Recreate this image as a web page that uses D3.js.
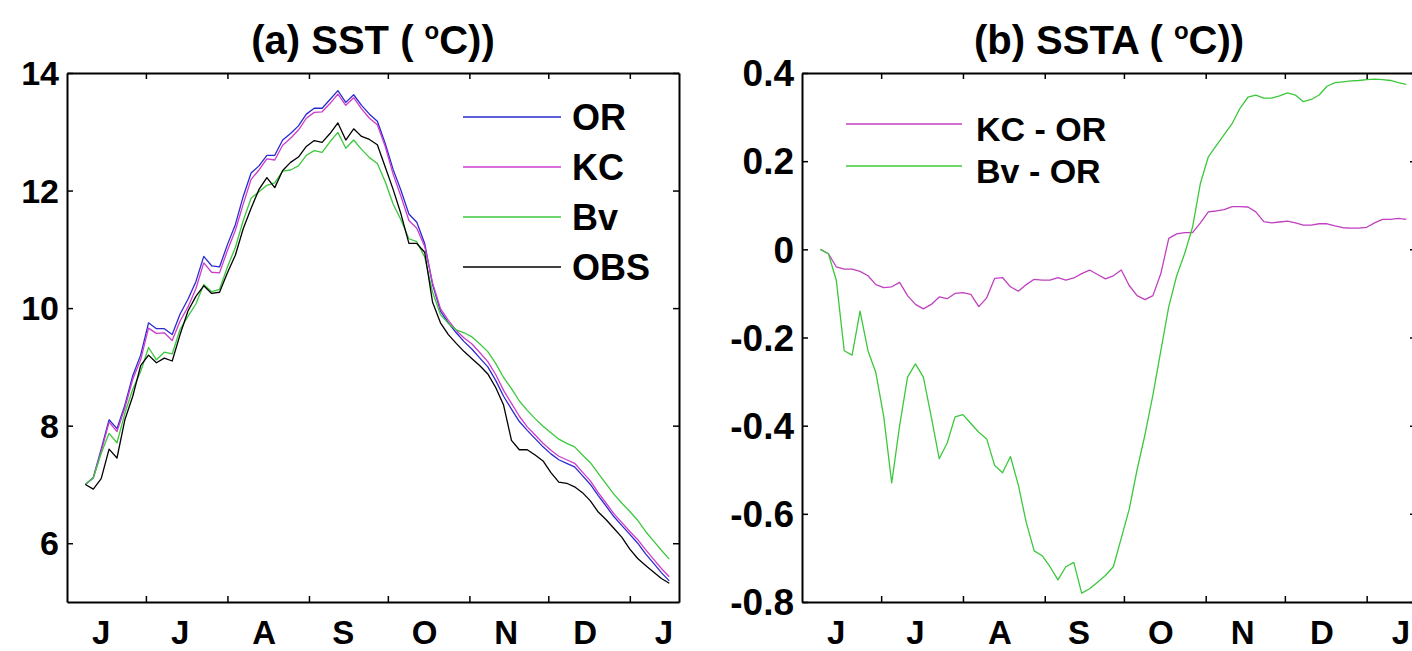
<!DOCTYPE html>
<html><head><meta charset="utf-8">
<script src="https://cdn.jsdelivr.net/npm/d3@7"></script>
<style>body{margin:0;background:#fff}svg{display:block}</style>
</head><body>
<svg id="c" width="1412" height="651"></svg>
<script>
// ---- data (day index counted from 1 June) ----
const days = [7,10,13,16,19,22,25,28,31,34,37,40,43,46,49,52,55,58,61,64,67,70,73,76,79,82,85,88,91,94,97,100,103,106,109,112,115,118,121,124,127,130,133,136,139,142,145,148,151,154,157,160,163,166,169,172,175,178,181,184,187,190,193,196,199,202,205,208,211,214,217,220,223,226,229];
const monthStartDays = [30,61,92,122,153,183,214];
const monthLabelDays = [13,43,75,105,136,167,197,227];
const monthLabels = ["J","J","A","S","O","N","D","J"];
const sstTicks = [14,12,10,8,6];
const anomTicks = [0.4,0.2,0,-0.2,-0.4,-0.6,-0.8];
const sstNames = ["OR","KC","Bv","OBS"];
const anomNames = ["KC - OR","Bv - OR"];

const sstOR = [7.0,7.12,7.6,8.1,7.95,8.35,8.85,9.2,9.75,9.65,9.65,9.55,9.9,10.15,10.45,10.88,10.72,10.7,11.08,11.42,11.9,12.3,12.42,12.6,12.6,12.86,12.97,13.1,13.3,13.4,13.4,13.55,13.7,13.5,13.63,13.45,13.3,13.18,12.8,12.36,12.0,11.6,11.46,11.1,10.4,9.95,9.75,9.58,9.43,9.3,9.15,9.0,8.77,8.5,8.28,8.07,7.92,7.78,7.64,7.52,7.42,7.36,7.3,7.15,7.0,6.81,6.63,6.45,6.3,6.15,6.0,5.82,5.66,5.5,5.36];
const sstKC = [7.0,7.11,7.56,8.06,7.9,8.3,8.79,9.12,9.66,9.57,9.58,9.45,9.78,10.02,10.33,10.77,10.61,10.6,10.98,11.32,11.77,12.19,12.35,12.54,12.52,12.77,12.89,13.03,13.23,13.33,13.34,13.48,13.64,13.45,13.58,13.39,13.23,13.12,12.75,12.28,11.9,11.49,11.36,11.05,10.43,9.99,9.79,9.62,9.49,9.39,9.24,9.09,8.87,8.6,8.38,8.16,7.98,7.84,7.7,7.58,7.48,7.42,7.36,7.21,7.06,6.86,6.68,6.5,6.35,6.2,6.06,5.89,5.73,5.57,5.43];
const sstBv = [7.0,7.11,7.53,7.87,7.71,8.21,8.62,8.92,9.33,9.12,9.25,9.22,9.64,9.86,10.07,10.4,10.28,10.32,10.7,11.03,11.49,11.87,11.98,12.09,12.13,12.33,12.35,12.42,12.6,12.68,12.65,12.83,12.99,12.72,12.86,12.7,12.56,12.46,12.15,11.77,11.5,11.18,11.13,10.87,10.27,9.89,9.74,9.63,9.58,9.51,9.39,9.26,9.06,8.82,8.63,8.42,8.26,8.12,7.99,7.88,7.77,7.7,7.64,7.5,7.37,7.19,7.01,6.83,6.68,6.54,6.39,6.2,6.04,5.88,5.73];
const sstOBS = [7.0,6.92,7.1,7.6,7.45,8.1,8.5,9.02,9.2,9.07,9.15,9.1,9.55,9.95,10.2,10.38,10.25,10.27,10.6,10.9,11.35,11.7,12.02,12.22,12.05,12.34,12.48,12.57,12.75,12.85,12.82,12.97,13.15,12.86,13.05,12.92,12.87,12.78,12.4,12.02,11.6,11.1,11.1,10.95,10.1,9.75,9.55,9.4,9.26,9.14,9.02,8.88,8.65,8.35,7.75,7.59,7.59,7.5,7.4,7.2,7.04,7.02,6.96,6.86,6.72,6.53,6.4,6.25,6.1,5.9,5.74,5.62,5.51,5.4,5.32];

const anomKC = [0,-0.01,-0.04,-0.045,-0.045,-0.05,-0.06,-0.08,-0.087,-0.085,-0.075,-0.105,-0.125,-0.135,-0.125,-0.108,-0.112,-0.1,-0.098,-0.102,-0.13,-0.11,-0.066,-0.064,-0.085,-0.095,-0.08,-0.068,-0.07,-0.07,-0.064,-0.07,-0.065,-0.055,-0.047,-0.057,-0.067,-0.06,-0.047,-0.082,-0.105,-0.114,-0.105,-0.055,0.025,0.035,0.038,0.038,0.06,0.085,0.087,0.09,0.097,0.097,0.096,0.085,0.063,0.06,0.062,0.064,0.06,0.055,0.055,0.058,0.058,0.053,0.049,0.048,0.048,0.05,0.06,0.068,0.068,0.07,0.068];
const anomBv = [0,-0.01,-0.07,-0.23,-0.24,-0.14,-0.23,-0.28,-0.38,-0.53,-0.40,-0.29,-0.26,-0.29,-0.38,-0.475,-0.44,-0.38,-0.375,-0.395,-0.415,-0.43,-0.49,-0.507,-0.47,-0.535,-0.62,-0.684,-0.695,-0.72,-0.75,-0.72,-0.71,-0.78,-0.77,-0.755,-0.74,-0.72,-0.655,-0.59,-0.5,-0.42,-0.33,-0.23,-0.13,-0.06,-0.01,0.05,0.15,0.21,0.235,0.26,0.285,0.32,0.345,0.35,0.343,0.343,0.348,0.355,0.35,0.335,0.34,0.35,0.37,0.378,0.38,0.382,0.383,0.385,0.386,0.385,0.383,0.378,0.374];

// ---- drawing ----
const svg = d3.select("#c");
const FONT = "'Liberation Sans', Arial, sans-serif";
const plotTop = 73, plotBottom = 602;
const dayDomain = [0, 232.7];

function panel(opt) {
  const g = svg.append("g");
  const x = d3.scaleLinear().domain(dayDomain).range([opt.x0, opt.x1]);
  const y = d3.scaleLinear().domain(opt.yDomain).range([plotBottom, plotTop]);
  const line = d3.line().x((d,i)=>x(days[i])).y(d=>y(d));
  opt.series.forEach(s=>{
    g.append("path").datum(s.values).attr("d", line)
      .attr("fill","none").attr("stroke", s.color).attr("stroke-width",1.3)
      .attr("stroke-linejoin","round");
  });
  const tl = 6;
  g.append("g").attr("transform",`translate(0,${plotBottom})`)
    .call(d3.axisBottom(x).tickValues(monthStartDays).tickSizeInner(-tl).tickSizeOuter(0).tickFormat(""));
  g.append("g").attr("transform",`translate(0,${plotTop})`)
    .call(d3.axisTop(x).tickValues(monthStartDays).tickSizeInner(-tl).tickSizeOuter(0).tickFormat(""));
  g.append("g").attr("transform",`translate(${opt.x0},0)`)
    .call(d3.axisLeft(y).tickValues(opt.ticks).tickSizeInner(-tl).tickSizeOuter(0).tickFormat(""));
  g.append("g").attr("transform",`translate(${opt.x1},0)`)
    .call(d3.axisRight(y).tickValues(opt.ticks).tickSizeInner(-tl).tickSizeOuter(0).tickFormat(""));
  g.selectAll(".domain").attr("stroke","#000").attr("stroke-width",2);
  g.selectAll(".tick line").attr("stroke","#000").attr("stroke-width",1.5);
  g.selectAll(".ylab").data(opt.ticks).enter().append("text")
    .attr("x", opt.x0 - 8).attr("y", d=>y(d)).attr("dy","0.36em")
    .attr("text-anchor","end").attr("font-family",FONT).attr("font-weight","bold")
    .attr("font-size",opt.tickSize).text(opt.fmt);
  g.selectAll(".xlab").data(monthLabels).enter().append("text")
    .attr("x",(d,i)=>x(monthLabelDays[i])).attr("y", 644)
    .attr("text-anchor","middle").attr("font-family",FONT).attr("font-weight","bold")
    .attr("font-size",33).text(d=>d);
  const t = g.append("text").attr("x",(opt.x0+opt.x1)/2).attr("y",54)
    .attr("text-anchor","middle").attr("font-family",FONT).attr("font-weight","bold")
    .attr("font-size",40);
  t.append("tspan").text(opt.title + " ( ");
  t.append("tspan").attr("font-size",24).attr("dy",-15).text("o");
  t.append("tspan").attr("dy",15).text("C))");
  opt.series.forEach((s,i)=>{
    const ly = opt.leg.y0 + i*opt.leg.dy;
    g.append("line").attr("x1",opt.leg.x1).attr("x2",opt.leg.x2)
      .attr("y1",ly + opt.leg.lineOff).attr("y2",ly + opt.leg.lineOff)
      .attr("stroke",s.color).attr("stroke-width",1.5);
    g.append("text").attr("x",opt.leg.tx).attr("y",ly).attr("dy","0.36em")
      .attr("font-family",FONT).attr("font-weight","bold").attr("font-size",opt.leg.size)
      .text(s.name);
  });
}

panel({
  x0:67, x1:679, yDomain:[5,14], ticks:sstTicks, fmt:d=>d3.format("d")(d), tickSize:34,
  title:"(a) SST",
  series:[
    {name:sstNames[0], values:sstOR, color:"#2a2ad0"},
    {name:sstNames[1], values:sstKC, color:"#cc3ccc"},
    {name:sstNames[2], values:sstBv, color:"#3cc83c"},
    {name:sstNames[3], values:sstOBS, color:"#000000"}
  ],
  leg:{x1:463, x2:561, tx:572, y0:117, dy:50, lineOff:0, size:36}
});
panel({
  x0:802, x1:1416, yDomain:[-0.8,0.4], ticks:anomTicks, fmt:d=>d===0?"0":d3.format(".1f")(d).replace("\u2212","-"), tickSize:37,
  title:"(b) SSTA",
  series:[
    {name:anomNames[0], values:anomKC, color:"#c040c0"},
    {name:anomNames[1], values:anomBv, color:"#3cc83c"}
  ],
  leg:{x1:846, x2:962, tx:976, y0:129, dy:42, lineOff:-5, size:34}
});
</script>
</body></html>
